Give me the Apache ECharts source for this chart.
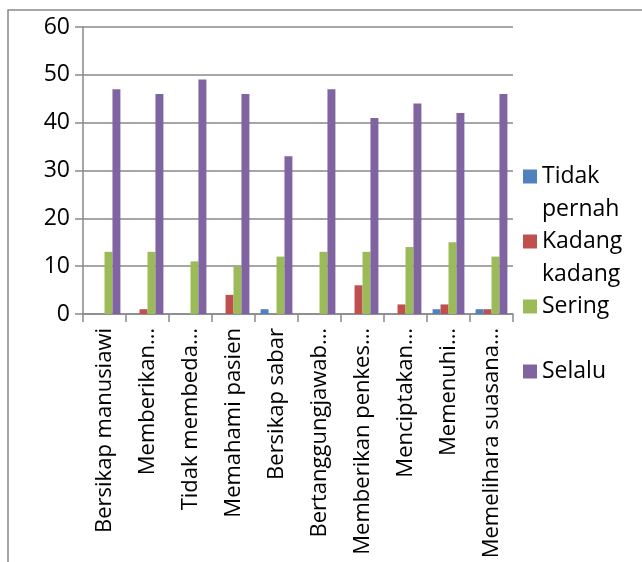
<!DOCTYPE html>
<html>
<head>
<meta charset="utf-8">
<script src="https://cdn.jsdelivr.net/npm/echarts@6/dist/echarts.min.js"></script>
<style>
  html, body { margin: 0; padding: 0; background: #fff; }
  #chart { width: 642px; height: 562px; }
</style>
</head>
<body>
<div id="chart"></div>
<script>
const categories = [
  "Bersikap manusiawi",
  "Memberikan…",
  "Tidak membeda…",
  "Memahami pasien",
  "Bersikap sabar",
  "Bertanggungjawab…",
  "Memberikan penkes…",
  "Menciptakan…",
  "Memenuhi…",
  "Memelihara suasana…"
];
const tidakPernah = [0, 0, 0, 0, 1, 0, 0, 0, 1, 1];
const kadangKadang = [0, 1, 0, 4, 0, 0, 6, 2, 2, 1];
const sering = [13, 13, 11, 10, 12, 13, 13, 14, 15, 12];
const selalu = [47, 46, 49, 46, 33, 47, 41, 44, 42, 46];
const yTicks = [0, 10, 20, 30, 40, 50, 60];

const seriesDefs = [
  { name: "Tidak pernah", data: tidakPernah, color: "#4F81BD" },
  { name: "Kadang kadang", data: kadangKadang, color: "#C0504D" },
  { name: "Sering", data: sering, color: "#9BBB59" },
  { name: "Selalu", data: selalu, color: "#8064A2" }
];

const font = "'Open Sans', sans-serif";
const gray = "#898989";

const chart = echarts.init(document.getElementById("chart"), null, { renderer: "canvas" });

chart.setOption({
  backgroundColor: "#ffffff",
  animation: false,
  graphic: [
    {
      type: "rect",
      shape: { x: 8, y: 10, width: 800, height: 800 },
      style: { fill: "none", stroke: gray, lineWidth: 1.5 },
      silent: true
    }
  ],
  grid: { left: 83, right: 129, top: 27, bottom: 248 },
  legend: {
    orient: "vertical",
    left: 523,
    top: 127,
    padding: 0,
    itemWidth: 14,
    itemHeight: 14,
    itemGap: -34,
    icon: "rect",
    // legend text is centred on the swatch, so pad with blank lines
    // to put the swatch beside the first line, as in the original
    formatter: (name) => {
      const parts = name.split(" ");
      if (parts.length === 1) parts.push(" ");
      return " \n" + parts.join("\n");
    },
    textStyle: {
      fontFamily: font,
      fontSize: 23,
      color: "#000",
      lineHeight: 33
    },
    data: seriesDefs.map((s) => s.name)
  },
  xAxis: {
    type: "category",
    data: categories,
    boundaryGap: true,
    axisLine: { show: true, lineStyle: { color: gray, width: 1.5 } },
    axisTick: { show: true, length: 8, lineStyle: { color: gray, width: 1.5 } },
    axisLabel: {
      rotate: 90,
      interval: 0,
      margin: 14,
      fontFamily: font,
      fontSize: 22,
      color: "#000"
    }
  },
  yAxis: {
    type: "value",
    min: 0,
    max: 60,
    interval: 10,
    axisLine: { show: true, lineStyle: { color: gray, width: 1.5 } },
    axisTick: { show: true, length: 8, lineStyle: { color: gray, width: 1.5 } },
    splitLine: { show: true, lineStyle: { color: gray, width: 1.5 } },
    axisLabel: {
      margin: 13,
      fontFamily: font,
      fontSize: 23,
      color: "#000",
      formatter: (v) => (yTicks.includes(v) ? String(v) : "")
    }
  },
  series: seriesDefs.map((s) => ({
    name: s.name,
    type: "bar",
    data: s.data,
    barGap: "0%",
    barCategoryGap: "26%",
    itemStyle: { color: s.color }
  }))
});
</script>
</body>
</html>
